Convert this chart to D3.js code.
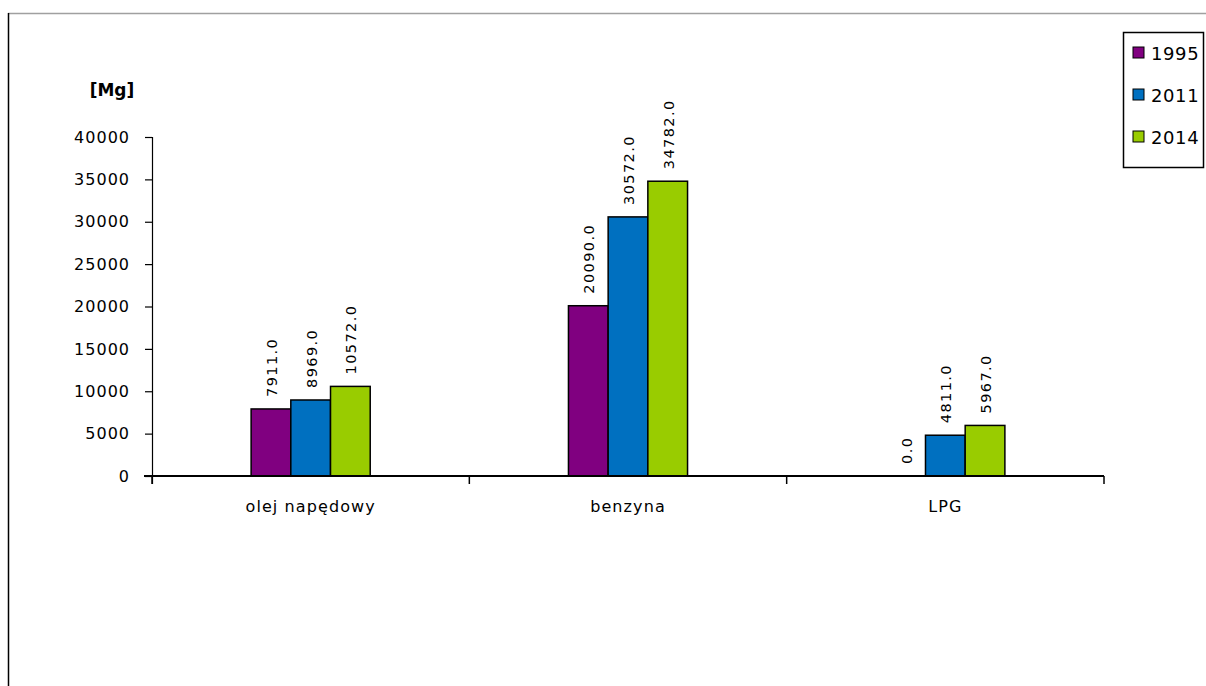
<!DOCTYPE html>
<html>
<head>
<meta charset="utf-8">
<script src="https://cdn.jsdelivr.net/npm/d3@7"></script>
<style>
  html, body { margin: 0; padding: 0; background: #fff; }
  svg { display: block; }
  text { font-family: "DejaVu Sans", sans-serif; fill: #000; }
</style>
</head>
<body>
<svg id="chart" width="1206" height="686"></svg>
<script>
const categories = ["olej napędowy", "benzyna", "LPG"];
const seriesNames = ["1995", "2011", "2014"];
const values1995 = [7911.0, 20090.0, 0.0];
const values2011 = [8969.0, 30572.0, 4811.0];
const values2014 = [10572.0, 34782.0, 5967.0];
const yTicks = [0, 5000, 10000, 15000, 20000, 25000, 30000, 35000, 40000];
const colors = ["#800080", "#0070C0", "#99CC00"];
const unitLabel = "[Mg]";

(function () {
const seriesValues = [values1995, values2011, values2014];
const svg = d3.select("#chart");

// outer frame
svg.append("line").attr("x1", 8).attr("x2", 1206).attr("y1", 13.5).attr("y2", 13.5)
  .attr("stroke", "#a0a0a0").attr("stroke-width", 1.5);
svg.append("line").attr("x1", 8.5).attr("x2", 8.5).attr("y1", 13).attr("y2", 686)
  .attr("stroke", "#000").attr("stroke-width", 1.5);

const pLeft = 152, pRight = 1104, pTop = 137, pBottom = 476;
const x = d3.scaleBand().domain(categories).range([pLeft, pRight]).paddingInner(0).paddingOuter(0);
const y = d3.scaleLinear().domain([0, 40000]).range([pBottom, pTop]);
const barW = 39.7;
const xs = d3.scaleBand().domain(seriesNames).range([0, barW * 3]);

// y axis
const yAxis = svg.append("g").attr("transform", `translate(${pLeft},0)`)
  .call(d3.axisLeft(y).tickValues(yTicks).tickSize(7).tickSizeOuter(0).tickFormat(d3.format("d")));
yAxis.select(".domain").attr("stroke", "#000").attr("stroke-width", 1.2);
yAxis.selectAll(".tick line").attr("stroke", "#000").attr("stroke-width", 1.2);
yAxis.selectAll(".tick text").attr("x", -22).attr("font-size", 16)
  .attr("font-family", "DejaVu Sans, sans-serif").style("letter-spacing", "1px").attr("fill", "#000");
yAxis.select(".domain").attr("d", `M0.5,${pTop}V${pBottom + 8}`);

// bars
categories.forEach((c, ci) => {
  const g = svg.append("g").attr("transform", `translate(${x(c) + x.bandwidth() / 2 - barW * 1.5},0)`);
  seriesNames.forEach((s, si) => {
    const v = seriesValues[si][ci];
    if (v > 0) {
      g.append("rect")
        .attr("x", xs(s)).attr("width", xs.bandwidth())
        .attr("y", y(v)).attr("height", y(0) - y(v))
        .attr("fill", colors[si]).attr("stroke", "#000").attr("stroke-width", 1.5);
    }
    const cx = xs(s) + xs.bandwidth() / 2;
    g.append("text")
      .attr("transform", `translate(${cx + 1},${y(v) - 12}) rotate(-90)`)
      .attr("dominant-baseline", "central")
      .attr("font-size", 14.5)
      .style("letter-spacing", "1.4px")
      .text(d3.format(".1f")(v));
  });
});

// x axis
const xAxis = svg.append("g").attr("transform", `translate(0,${pBottom})`)
  .call(d3.axisBottom(x).tickSize(0).tickSizeOuter(0));
xAxis.select(".domain").attr("d", `M${pLeft - 8},0H${pRight}`).attr("stroke", "#000").attr("stroke-width", 2.2);
xAxis.selectAll(".tick text").attr("y", 25).attr("font-size", 16)
  .attr("font-family", "DejaVu Sans, sans-serif").style("letter-spacing", "1.1px").attr("fill", "#000");
const bounds = categories.map(c => x(c)).concat([pRight]);
svg.append("g").selectAll("line").data(bounds).join("line")
  .attr("x1", d => d).attr("x2", d => d).attr("y1", pBottom).attr("y2", pBottom + 8)
  .attr("stroke", "#000").attr("stroke-width", 1.5);

// unit label
svg.append("text").attr("x", 112).attr("y", 96).attr("text-anchor", "middle")
  .attr("font-size", 17).attr("font-weight", "bold").text(unitLabel);

// legend
const lg = svg.append("g");
lg.append("rect").attr("x", 1123.5).attr("y", 32.5).attr("width", 80).attr("height", 135)
  .attr("fill", "#fff").attr("stroke", "#000").attr("stroke-width", 1.5);
seriesNames.forEach((s, i) => {
  const cy = 53 + i * 42;
  lg.append("rect").attr("x", 1133).attr("y", cy - 6).attr("width", 11).attr("height", 11)
    .attr("fill", colors[i]).attr("stroke", "#000").attr("stroke-width", 1);
  lg.append("text").attr("x", 1151).attr("y", cy).attr("dominant-baseline", "central")
    .attr("font-size", 18).style("letter-spacing", "0.6px").text(s);
});
})();
</script>
</body>
</html>
